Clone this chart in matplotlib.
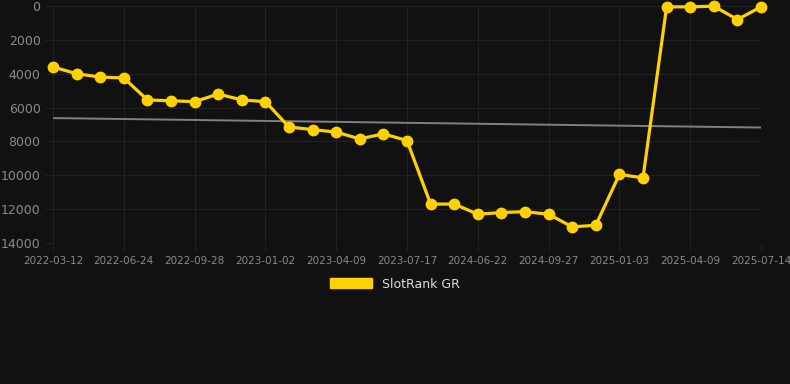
import numpy as np
import matplotlib
matplotlib.use("Agg")
import matplotlib.pyplot as plt
from matplotlib.patches import Patch

# rank values, one per observation (lower rank shown higher)
rank = [3600, 4000, 4200, 4250, 5550, 5600, 5650, 5200, 5550, 5650,
        7150, 7300, 7450, 7850, 7550, 7950, 11700, 11700, 12300, 12200,
        12150, 12300, 13050, 12950, 9950, 10150, 50, 50, 10, 800, 50]
tick_labels = ["2022-03-12", "2022-06-24", "2022-09-28", "2023-01-02",
               "2023-04-09", "2023-07-17", "2024-06-22", "2024-09-27",
               "2025-01-03", "2025-04-09", "2025-07-14"]
label_step = 3

bg = "#111111"
gold = "#FFD100"

x = np.arange(len(rank))
coef = np.polyfit(x, rank, 1)
trend = np.polyval(coef, x)

fig = plt.figure(figsize=(7.9, 3.84), dpi=100, facecolor=bg)
ax = fig.add_axes([53 / 790, 1 - 243 / 384, (761 - 53) / 790, (243 - 6) / 384])
ax.set_facecolor(bg)

ax.plot(x, trend, color="#808080", lw=1.4, zorder=2)
ax.plot(x, rank, color=gold, lw=2.3, marker="o", ms=8.5, mew=0,
        clip_on=False, zorder=3)

ax.set_xlim(0, len(rank) - 1)
ax.set_ylim(14000, 0)
ax.set_yticks(np.arange(0, 14001, 2000))
ax.set_xticks(x[::label_step])
ax.set_xticklabels(tick_labels)

ax.grid(True, color="#212121", lw=0.8)
ax.set_axisbelow(True)
for s in ax.spines.values():
    s.set_visible(False)
ax.tick_params(axis="both", colors="#212121", labelcolor="#8a8a8a", length=6)
ax.tick_params(axis="x", labelsize=7.5, pad=3)
ax.tick_params(axis="y", labelsize=9, pad=3)

# legend
fig.legend(handles=[Patch(facecolor=gold, edgecolor=gold, label="SlotRank GR")],
           loc="center", bbox_to_anchor=(0.5, 1 - 284 / 384), frameon=False,
           handlelength=3.3, handleheight=0.9, fontsize=9, labelcolor="#dddddd")

fig.savefig("out.png", dpi=100, facecolor=bg)
